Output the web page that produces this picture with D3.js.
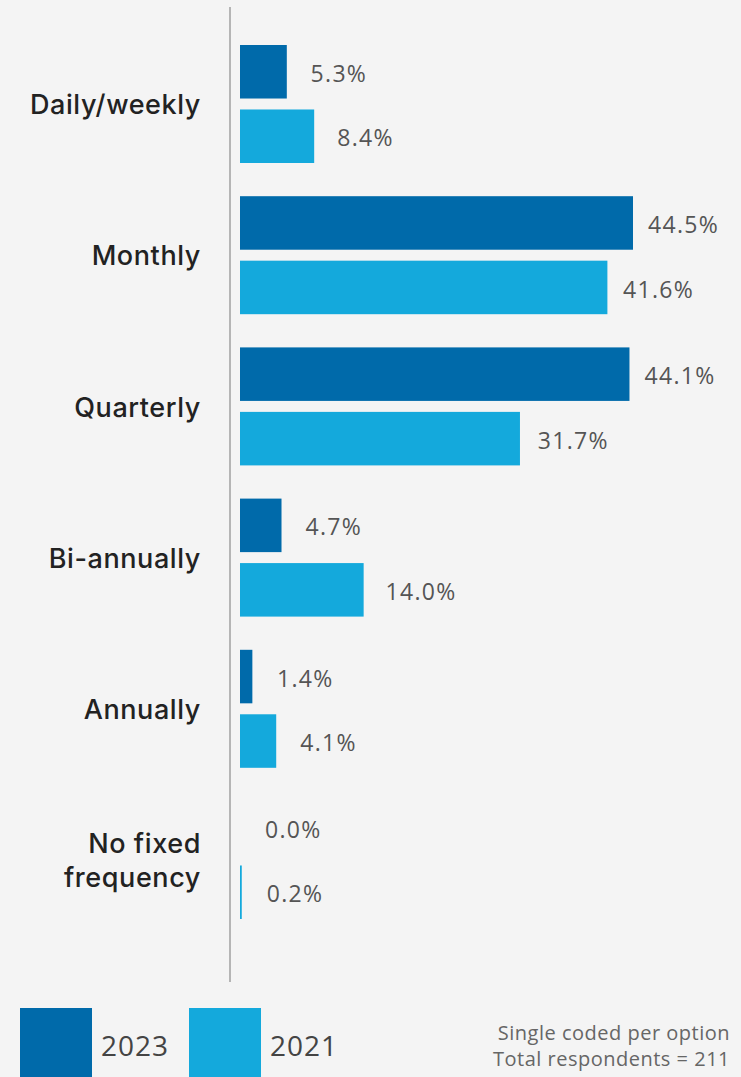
<!DOCTYPE html>
<html>
<head>
<meta charset="utf-8">
<script src="https://cdn.jsdelivr.net/npm/d3@7"></script>
<style>
  html, body { margin: 0; padding: 0; background: #f4f4f4; }
  svg { display: block; }
  text { font-family: "Open Sans", "Noto Sans", sans-serif; }
  text.cat { font-family: Inter, "Open Sans", sans-serif; }
</style>
</head>
<body>
<svg id="chart" width="741" height="1077"></svg>
<script>
// Frequency categories (multi-line labels split on "\n")
const categories = ["Daily/weekly", "Monthly", "Quarterly", "Bi-annually", "Annually", "No fixed\nfrequency"];
const seriesNames = ["2023", "2021"];
const values2023 = [5.3, 44.5, 44.1, 4.7, 1.4, 0.0];
const values2021 = [8.4, 41.6, 31.7, 14.0, 4.1, 0.2];
const footnotes = ["Single coded per option", "Total respondents = 211"];

const colors = { "2023": "#006aaa", "2021": "#14a9dc" };

const W = 741, H = 1077;
const svg = d3.select("#chart");
svg.append("rect").attr("width", W).attr("height", H).attr("fill", "#f4f4f4");

const rows = categories.map((c, i) => ({
  category: c,
  values: [
    { series: "2023", value: values2023[i] },
    { series: "2021", value: values2021[i] }
  ]
}));

// Horizontal value scale (bars start just right of the baseline)
const x = d3.scaleLinear().domain([0, 44.5]).range([240, 633]);
// Value labels sit a little further out for short bars
const xLabel = d3.scaleLinear().domain([0, 44.5]).range([265, 648]);

// Category bands and the two series inside each band
const y = d3.scaleBand().domain(categories).range([28.4, 935.6]).padding(0);
const ySub = d3.scaleBand().domain(seriesNames)
  .range([(y.bandwidth() - 118) / 2, (y.bandwidth() + 118) / 2])
  .paddingInner(0.17).paddingOuter(0);

// Baseline
svg.append("line")
  .attr("x1", 230).attr("x2", 230)
  .attr("y1", 7).attr("y2", 982)
  .attr("stroke", "#a0a0a0").attr("stroke-width", 1.5);

const group = svg.selectAll("g.row").data(rows).join("g")
  .attr("class", "row")
  .attr("transform", d => `translate(0,${y(d.category)})`);

group.selectAll("rect").data(d => d.values).join("rect")
  .attr("x", x(0))
  .attr("y", d => ySub(d.series))
  .attr("width", d => x(d.value) - x(0))
  .attr("height", ySub.bandwidth())
  .attr("fill", d => colors[d.series]);

group.selectAll("text.val").data(d => d.values).join("text")
  .attr("class", "val")
  .attr("x", d => xLabel(d.value))
  .attr("y", d => ySub(d.series) + ySub.bandwidth() / 2)
  .attr("dy", "0.44em")
  .attr("fill", "#555")
  .attr("font-size", 23)
  .attr("letter-spacing", 1.3)
  .text(d => d.value.toFixed(1) + "%");

// Category labels, right-aligned against the baseline
group.each(function(d) {
  const lines = d.category.split("\n");
  const lh = 34;
  const t = d3.select(this).append("text")
    .attr("class", "cat")
    .attr("text-anchor", "end")
    .attr("fill", "#222")
    .attr("font-size", 27)
    .attr("font-weight", 500)
    .attr("letter-spacing", 0.6);
  lines.forEach((ln, i) => {
    t.append("tspan")
      .attr("x", 201)
      .attr("y", y.bandwidth() / 2 + (i - (lines.length - 1) / 2) * lh)
      .attr("dy", "0.38em")
      .text(ln);
  });
});

// Legend
const legend = svg.append("g").attr("class", "legend");
const lx = d3.scalePoint().domain(seriesNames).range([20, 189]);
seriesNames.forEach(s => {
  legend.append("rect")
    .attr("x", lx(s)).attr("y", 1008)
    .attr("width", 72).attr("height", 80)
    .attr("fill", colors[s]);
  legend.append("text")
    .attr("x", lx(s) + 81).attr("y", 1045)
    .attr("dy", "0.38em")
    .attr("fill", "#444")
    .attr("font-size", 28)
    .attr("letter-spacing", 1)
    .text(s);
});

// Footnote
svg.append("g").selectAll("text").data(footnotes).join("text")
  .attr("x", 730)
  .attr("y", (d, i) => 1032 + i * 26)
  .attr("dy", "0.38em")
  .attr("text-anchor", "end")
  .attr("fill", "#666")
  .attr("font-size", 20)
  .attr("letter-spacing", 0.5)
  .text(d => d);
</script>
</body>
</html>
